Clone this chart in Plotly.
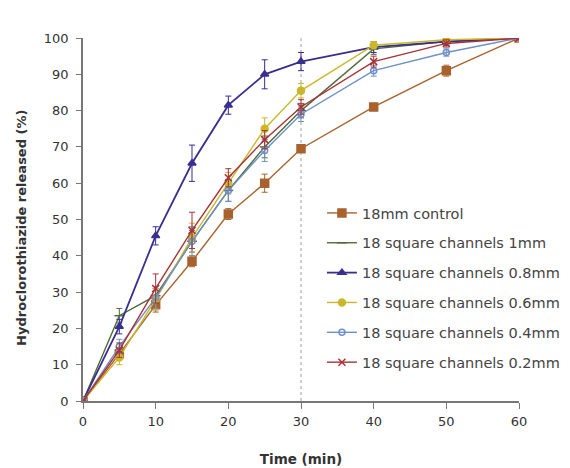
import plotly.graph_objects as go

time = [0, 5, 10, 15, 20, 25, 30, 40, 50, 60]

names = [
    "18mm control",
    "18 square channels 1mm",
    "18 square channels 0.8mm",
    "18 square channels 0.6mm",
    "18 square channels 0.4mm",
    "18 square channels 0.2mm",
]

control = [0, 13, 26.5, 38.5, 51.5, 60, 69.5, 81, 91, 100]
ch_1mm = [0, 23.5, 29, 44, 58, 70, 80, 97, 99, 100]
ch_08mm = [0, 20.5, 45.5, 65.5, 81.5, 90, 93.5, 97.5, 99, 100]
ch_06mm = [0, 12, 28, 45, 60, 75, 85.5, 98, 99.5, 100]
ch_04mm = [0, 15, 28.5, 44, 58, 69, 79, 91, 96, 100]
ch_02mm = [0, 14, 31, 47, 61.5, 72, 81, 93.5, 98.5, 100]

err_control = [0, 1.5, 2, 1.5, 1.5, 2.5, 1, 1, 1.5, 0.5]
err_1mm = [0, 2, 2, 3, 3, 3, 2, 1.5, 1, 0.5]
err_08mm = [0, 2, 2.5, 5, 2.5, 4, 2.5, 1.5, 1, 0.5]
err_06mm = [0, 2, 3, 4, 3, 3, 2, 1, 0.5, 0.5]
err_04mm = [0, 2, 3, 4, 3, 3, 2, 1.5, 1, 0.5]
err_02mm = [0, 2, 4, 5, 2.5, 2.5, 2, 1.5, 1, 0.5]

series = [control, ch_1mm, ch_08mm, ch_06mm, ch_04mm, ch_02mm]
errors = [err_control, err_1mm, err_08mm, err_06mm, err_04mm, err_02mm]

colors = ["#A8622E", "#4F6B3A", "#3A2E8F", "#C9B82A", "#6F8FC8", "#A83238"]
symbols = ["square", "line-ew-open", "triangle-up", "circle", "circle-open", "x-thin-open"]
sizes = [8, 7, 7, 7, 6, 7]
widths = [1.4, 1.4, 1.8, 1.4, 1.4, 1.4]

fig = go.Figure()
for i, (nm, ys, er, c, s, sz, w) in enumerate(zip(names, series, errors, colors, symbols, sizes, widths)):
    fig.add_trace(go.Scatter(
        x=time, y=ys, name=nm, mode="lines+markers", legendgroup=f"g{i}",
        line=dict(color=c, width=w),
        marker=dict(symbol=s, size=sz, color=c, line=dict(color=c, width=1.5)),
        error_y=dict(type="data", array=er, visible=True, color=c, thickness=1, width=3),
    ))

fig.add_shape(type="line", x0=30, x1=30, y0=0, y1=1, xref="x", yref="paper",
              line=dict(color="#A0A0A0", width=1, dash="dot"), layer="below")

fig.update_layout(
    width=562, height=460,
    margin=dict(l=75, r=51, t=30, b=67, autoexpand=False),
    paper_bgcolor="white", plot_bgcolor="white",
    font=dict(family="DejaVu Sans, sans-serif", size=12, color="#333333"),
    showlegend=True,
    legend=dict(x=0.548, y=0.562, xanchor="left", yanchor="top",
                bgcolor="rgba(255,255,255,0)", font=dict(size=14.5, color="#444444"),
                tracegroupgap=8, itemwidth=30),
    xaxis=dict(range=[0, 60], tickvals=[0, 10, 20, 30, 40, 50, 60],
               showgrid=False, zeroline=False, showline=True, linecolor="#777777",
               linewidth=1.5, ticks="outside", ticklen=6, tickcolor="#777777",
               ticklabelstandoff=2,
               tickfont=dict(size=13, color="#333333"),
               title=dict(text="<b>Time (min)</b>", font=dict(size=13.5), standoff=26)),
    yaxis=dict(range=[0, 100], tickvals=list(range(0, 101, 10)),
               showgrid=False, zeroline=False, showline=True, linecolor="#777777",
               linewidth=1.5, ticks="outside", ticklen=5, tickcolor="#777777",
               ticklabelstandoff=5,
               tickfont=dict(size=13, color="#333333"),
               title=dict(text="<b>Hydroclorothiazide released (%)</b>&nbsp;&nbsp;&nbsp;&nbsp;",
                          font=dict(size=13), standoff=14)),
)

fig.write_html("out.html")
